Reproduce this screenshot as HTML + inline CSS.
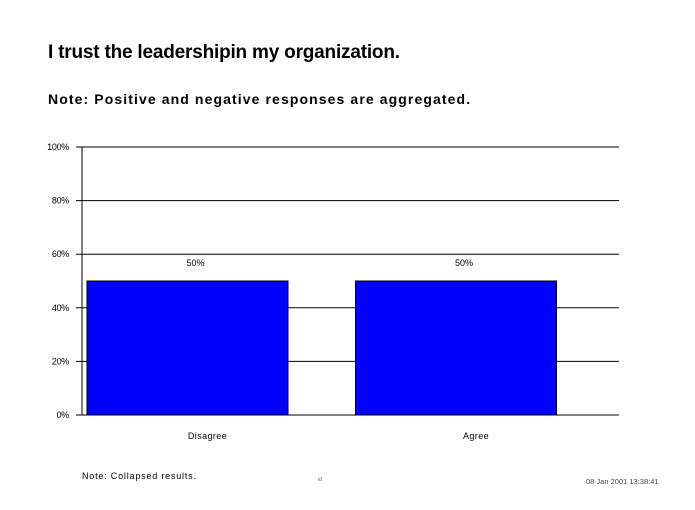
<!DOCTYPE html>
<html><head><meta charset="utf-8"><style>
body{margin:0;background:#fff;font-family:"Liberation Sans",Arial,sans-serif}
svg text{font-family:"Liberation Sans",Arial,sans-serif}
</style></head><body>
<svg width="695" height="505" viewBox="0 0 695 505" xmlns="http://www.w3.org/2000/svg">
<rect width="695" height="505" fill="#fff"/>
<text x="48" y="58" font-size="19" font-weight="bold" letter-spacing="-0.2">I trust the leadershipin my organization.</text>
<text x="48" y="104" font-size="14" font-weight="bold" letter-spacing="1.1">Note: Positive and negative responses are aggregated.</text>
<g id="grid"></g>
<g id="bars"></g>
<g id="labels"></g>
<text x="82" y="479" font-size="9" letter-spacing="0.8">Note:  Collapsed results.</text>
<text x="318" y="481" font-size="5" fill="#666">id</text>
<text x="586" y="484" font-size="7.5" fill="#444">08 Jan 2001  13:38:41</text>
</svg>
<script>
const categories=["Disagree","Agree"];
const values=[50,50];
const valueLabels=["50%","50%"];
const ticks=[0,20,40,60,80,100];
const tickLabels=["0%","20%","40%","60%","80%","100%"];
const NS="http://www.w3.org/2000/svg";
const x0=82,x1=619,yTop=147,yBot=415;
const y=v=>yBot-(v/100)*(yBot-yTop);
const band=(x1-x0)/categories.length;
function mk(t,a,p){const e=document.createElementNS(NS,t);for(const k in a)e.setAttribute(k,a[k]);p.appendChild(e);return e;}
const g=document.getElementById('grid'),b=document.getElementById('bars'),l=document.getElementById('labels');
ticks.forEach((t,i)=>{
 const ln=mk('line',{x1:76,x2:x1,y1:y(t),y2:y(t),stroke:'#000','stroke-width':1},g);
 
 
 const tx=mk('text',{x:69,y:y(t)+3,'font-size':9,'text-anchor':'end','letter-spacing':'-0.3'},l);
 tx.textContent=tickLabels[i];
 
 
});
const ax=mk('line',{x1:x0,x2:x0,y1:yTop,y2:yBot,stroke:'#000','stroke-width':1},g);


categories.forEach((c,i)=>{
 const bs=x0+band*i+5,bw=201;
 const r=mk('rect',{x:bs,y:y(values[i]),width:bw,height:yBot-y(values[i]),fill:'#0000ff',stroke:'#000','stroke-width':1},b);
 
 
 const vl=mk('text',{x:bs+bw/2+8,y:y(values[i])-15,'font-size':9,'text-anchor':'middle'},l);
 vl.textContent=valueLabels[i];
 
 
 const cl=mk('text',{x:bs+bw/2+20,y:439,'font-size':9,'text-anchor':'middle','letter-spacing':'0.4'},l);
 cl.textContent=c;
 
 
});
</script>
</body></html>
